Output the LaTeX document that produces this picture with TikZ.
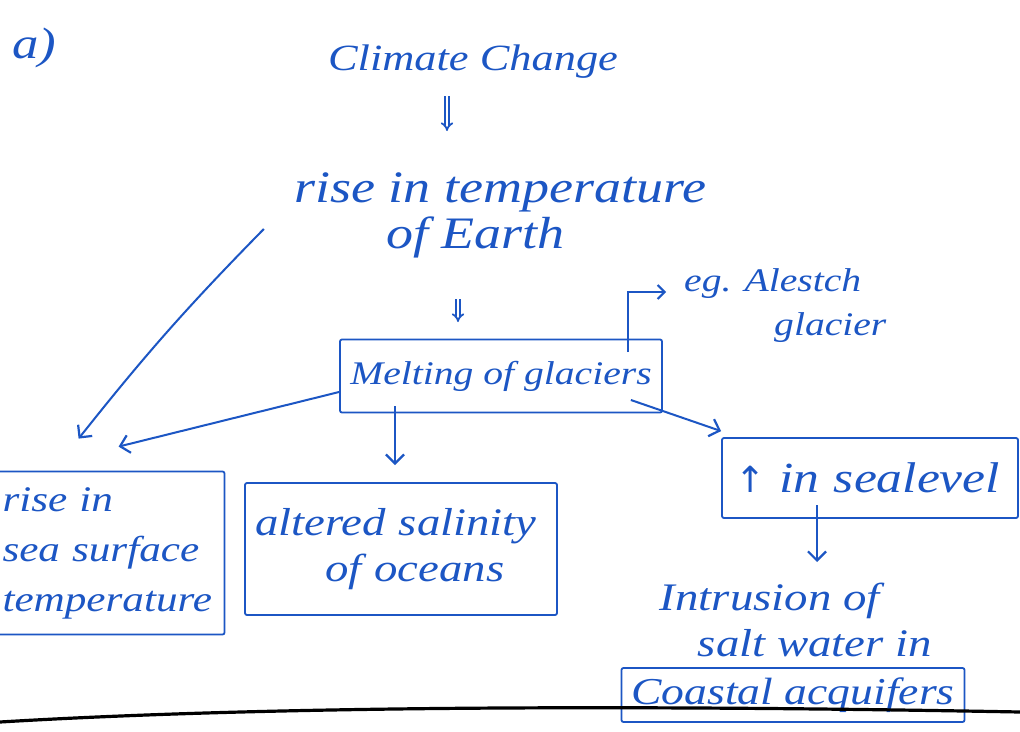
\documentclass[tikz,border=0pt]{standalone}
\usepackage{fontspec}
\setmainfont{Liberation Serif}
\newfontfamily\handfont[FakeStretch=1.2]{Liberation Serif}
\newfontfamily\symfont{DejaVu Sans}
\usetikzlibrary{arrows.meta,calc}
\definecolor{ink}{RGB}{28,86,196}
\tikzset{
  hand/.style 2 args={font=\handfont\itshape\fontsize{#1}{#2}\selectfont, text=ink, inner sep=0pt},
  boxed/.style={draw=ink, line width=1.8pt, rounded corners=2pt},
  arr/.style={draw=ink, line width=2pt, -{Straight Barb[length=9pt,width=18pt,line width=2.2pt]}},
  dbl/.style={draw=ink, line width=1.8pt, double=white, double distance=2.2pt, -{Implies[length=6pt]}},
  rule/.style={draw=black, line width=3.2pt}
}
\begin{document}
\begin{tikzpicture}[x=1pt,y=-1pt]
\useasboundingbox (0,0) rectangle (1020,731);
\fill[white] (0,0) rectangle (1020,731);
\begin{scope}
\clip (0,0) rectangle (1020,731);

% item label
\node[hand={44}{50}] (lbl) at (34,48) {a)};

% chain of causes
\node[hand={37}{44}] (cc) at (473,62) {Climate Change};
\node[hand={45}{46}, align=left] (rise) at (500,215) {rise in temperature\\\hspace*{92pt}of Earth};
\node[hand={33}{40}, boxed, minimum width=322pt, minimum height=73pt] (melt) at (501,376) {Melting of glaciers};
\node[hand={33}{44}, align=left, anchor=north west] (eg) at (684,268) {eg. Alestch\\\hspace*{90pt}glacier};

% consequences
\node[hand={36}{50}, boxed, align=left, text width=199pt, inner xsep=23pt, minimum height=163pt] (sst) at (102,553) {rise in\\sea surface\\temperature};
\node[hand={39}{46}, boxed, align=left, text width=292pt, inner xsep=10pt, minimum height=132pt] (sal) at (401,549) {altered salinity\\\hspace*{70pt}of oceans};
\node[hand={43}{46}, boxed, align=left, text width=270pt, inner xsep=13pt, minimum height=80pt] (sea) at (870,478) {{\symfont\upshape\fontsize{36}{40}\selectfont ↑} in sealevel};
\node[hand={39}{46}, align=left] (intr) at (796,620) {Intrusion of\\\hspace*{38pt}salt water in};
\node[hand={38}{44}, boxed, minimum width=343pt, minimum height=54pt] (coast) at (793,695) {Coastal acquifers};

% connectors
\coordinate (x1) at (447,0);
\coordinate (x2) at (458,0);
\coordinate (x3) at (395,0);
\coordinate (x4) at (628,0);
\coordinate (x5) at (817,0);
\draw[dbl] ([yshift=-34pt]cc.center -| x1) -- ([yshift=84pt]rise.center -| x1);
\draw[dbl] ([yshift=-84pt]rise.center -| x2) -- ([yshift=54pt]melt.center -| x2);
\draw[draw=ink, line width=2pt, -{Straight Barb[length=7pt,width=14pt,line width=2pt]}] ([yshift=24pt]melt.center -| x4) |- ([xshift=-18pt,yshift=-24pt]eg.north west);
\draw[arr] ([xshift=-30pt,yshift=-14pt]rise.west) to[bend right=3] ([xshift=100pt,yshift=32pt]sst.north west);
\draw[arr] ([yshift=-16pt]melt.west) -- ([xshift=140pt,yshift=24pt]sst.north west);
\draw[arr] ([yshift=-30pt]melt.center -| x3) -- ([yshift=84pt]sal.center -| x3);
\draw[arr] ([shift={(-32pt,-24pt)}]melt.east) -- ([yshift=6pt]sea.north west);
\draw[arr] ([yshift=-27pt]sea.center -| x5) -- ([yshift=58pt]intr.center -| x5);

% ruled line of the page
\draw[rule] (0,722) .. controls (300,704) and (700,706) .. (1020,712);
\end{scope}
\end{tikzpicture}
\end{document}
